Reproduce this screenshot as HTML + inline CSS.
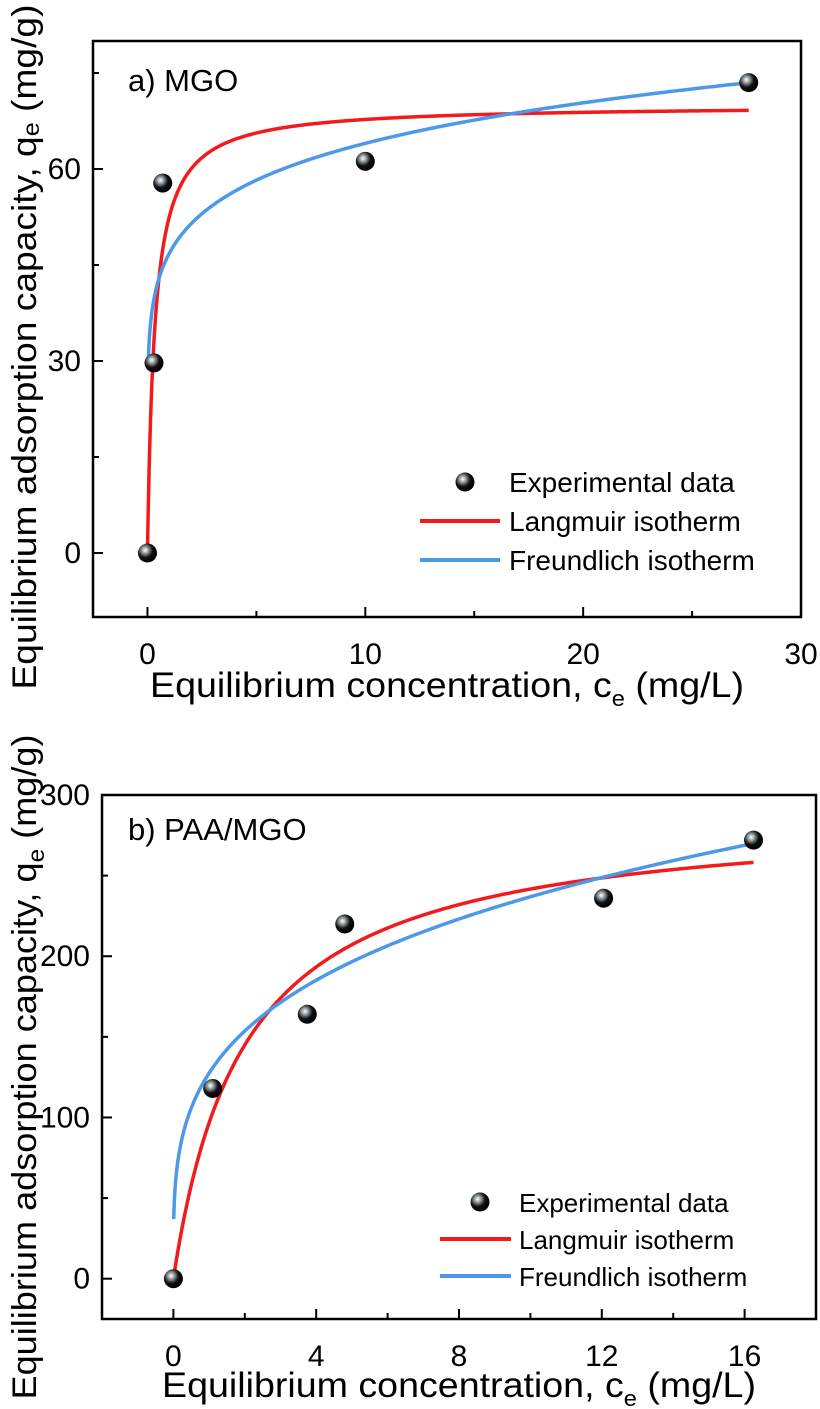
<!DOCTYPE html>
<html><head><meta charset="utf-8"><style>
html,body{margin:0;padding:0;background:#fff}
svg{display:block;font-family:"Liberation Sans",Arial,sans-serif}
</style></head><body>
<svg id="chart" width="820" height="1409" viewBox="0 0 820 1409" xmlns="http://www.w3.org/2000/svg">
<defs>
<radialGradient id="ball" cx="0.38" cy="0.35" r="0.65">
<stop offset="0" stop-color="#ffffff"/><stop offset="0.25" stop-color="#9aa4aa"/><stop offset="0.6" stop-color="#111"/><stop offset="1" stop-color="#000"/>
</radialGradient>
</defs>
<g id="pa"></g>
<g id="pb"></g>
</svg>
<script>
// Panel a data
const aX = [0, 0.3, 0.7, 10, 27.6];
const aY = [0, 29.7, 57.8, 61.2, 73.5];
const aXTicks = [0, 10, 20, 30];
const aYTicks = [0, 30, 60];
const aLang = [70, 3];        // qm, KL
const aFreu = [46.8, 0.136];  // KF, 1/n
// Panel b data
const bX = [0, 1.1, 3.75, 4.8, 12.05, 16.25];
const bY = [0, 118, 164, 220, 236, 272];
const bXTicks = [0, 4, 8, 12, 16];
const bYTicks = [0, 100, 200, 300];
const bLang = [290, 0.5];
const bFreu = [127.5, 0.269];

const NS = "http://www.w3.org/2000/svg";
function mk(parent, tag, attrs, text){
  const e = document.createElementNS(NS, tag);
  for (const k in attrs) e.setAttribute(k, attrs[k]);
  if (text !== undefined) e.textContent = text;
  parent.appendChild(e); return e;
}
function panel(g, cfg){
  const {L,R,T,B,x0,x1,y0,y1} = cfg;
  const sx = v => L + (v - x0) / (x1 - x0) * (R - L);
  const sy = v => B - (v - y0) / (y1 - y0) * (B - T);
  const frame = mk(g,'rect',{x:L,y:T,width:R-L,height:B-T,fill:'none',stroke:'#000','stroke-width':2.5});
  
  
  cfg.xt.forEach((t,i)=>{
    const x = sx(t);
    const tk = mk(g,'line',{x1:x,x2:x,y1:B,y2:B-10,stroke:'#000','stroke-width':2});
    
    
    const lb = mk(g,'text',{x:x,y:B+47,'font-size':30,'text-anchor':'middle'}, String(t));
    
    
    if (i < cfg.xt.length-1){
      const m = sx((t + cfg.xt[i+1])/2);
      const mt = mk(g,'line',{x1:m,x2:m,y1:B,y2:B-6,stroke:'#000','stroke-width':2});
      
      
    }
  });
  cfg.yt.forEach((t,i)=>{
    const y = sy(t);
    const tk = mk(g,'line',{x1:L,x2:L+10,y1:y,y2:y,stroke:'#000','stroke-width':2});
    
    
    const lb = mk(g,'text',{x:L-12,y:y+10,'font-size':30,'text-anchor':'end'}, String(t));
    
    
    const step = cfg.yt[1]-cfg.yt[0];
    const mv = t + step/2;
    if (mv < y1){
      const m = sy(mv);
      const mt = mk(g,'line',{x1:L,x2:L+6,y1:m,y2:m,stroke:'#000','stroke-width':2});
      
      
    }
  });
  const lang = x => cfg.lang[0]*cfg.lang[1]*x/(1+cfg.lang[1]*x);
  const freu = x => cfg.freu[0]*Math.pow(x, cfg.freu[1]);
  const xmax = cfg.xs[cfg.xs.length-1];
  let dl='', df='';
  for (let i=0;i<=600;i++){
    const x = xmax*Math.pow(i/600,2.2);
    dl += (i?'L':'M')+sx(x).toFixed(2)+','+sy(lang(x)).toFixed(2);
    const xf = cfg.fStart + (xmax-cfg.fStart)*Math.pow(i/600,2.2);
    df += (i?'L':'M')+sx(xf).toFixed(2)+','+sy(freu(xf)).toFixed(2);
  }
  const pl = mk(g,'path',{d:dl,fill:'none',stroke:'#f21a1a','stroke-width':3.5});
  
  
  const pf = mk(g,'path',{d:df,fill:'none',stroke:'#4e98ea','stroke-width':3.5});
  
  
  cfg.xs.forEach((x,i)=>{
    const c = mk(g,'circle',{cx:sx(x),cy:sy(cfg.ys[i]),r:9.5,fill:'url(#ball)'});
    
    
  });
  const lg = cfg.leg;
  const c = mk(g,'circle',{cx:lg.mx,cy:lg.y0-10,r:9.5,fill:'url(#ball)'});
  
  
  const names = ['Experimental data','Langmuir isotherm','Freundlich isotherm'];
  names.forEach((n,i)=>{
    const t = mk(g,'text',{x:lg.tx,y:lg.y0+i*lg.dy,'font-size':lg.fs}, n);
    
    
  });
  const l1 = mk(g,'line',{x1:lg.l0,x2:lg.l1,y1:lg.y0+lg.dy-10,y2:lg.y0+lg.dy-10,stroke:'#f21a1a','stroke-width':4});
  
  
  const l2 = mk(g,'line',{x1:lg.l0,x2:lg.l1,y1:lg.y0+2*lg.dy-10,y2:lg.y0+2*lg.dy-10,stroke:'#4e98ea','stroke-width':4});
  
  
  const pt = mk(g,'text',{x:cfg.lab[1],y:cfg.lab[2],'font-size':31}, cfg.lab[0]);
  
  
  const xt = mk(g,'text',{x:(L+R)/2,y:cfg.xtY,'font-size':35,'text-anchor':'middle',textLength:cfg.xtLen,lengthAdjust:'spacingAndGlyphs'});
  
  
  xt.innerHTML = 'Equilibrium concentration, c<tspan font-size="22" dy="9">e</tspan><tspan dy="-9"> (mg/L)</tspan>';
  const yt = mk(g,'text',{x:0,y:0,'font-size':34,'text-anchor':'middle',textLength:cfg.ytLen,lengthAdjust:'spacingAndGlyphs',transform:`translate(${cfg.ytX},${cfg.ytC}) rotate(-90)`});
  
  
  yt.innerHTML = 'Equilibrium adsorption capacity, q<tspan font-size="23" dy="'+cfg.subDy+'">e</tspan><tspan dy="'+(-cfg.subDy)+'"> (mg/g)</tspan>';
}
panel(document.getElementById('pa'),{L:93,R:801,T:41,B:617,x0:-2.5,x1:30,y0:-10,y1:80,
  xt:aXTicks,yt:aYTicks,xs:aX,ys:aY,lang:aLang,freu:aFreu,fStart:0.04,
  leg:{mx:465,tx:509,y0:492,dy:39,fs:28,l0:420,l1:500},
  lab:['a) MGO',128,91],xtY:697,xtLen:594,ytX:36,ytC:347,ytLen:685,subDy:3});
panel(document.getElementById('pb'),{L:102,R:816,T:795,B:1319,x0:-2,x1:18,y0:-25,y1:300,
  xt:bXTicks,yt:bYTicks,xs:bX,ys:bY,lang:bLang,freu:bFreu,fStart:0.01,
  leg:{mx:480,tx:519,y0:1212,dy:37,fs:26,l0:440,l1:511},
  lab:['b) PAA/MGO',128,840],xtY:1397,xtLen:594,ytX:36,ytC:1067,ytLen:665,subDy:8});
</script>
</body></html>
